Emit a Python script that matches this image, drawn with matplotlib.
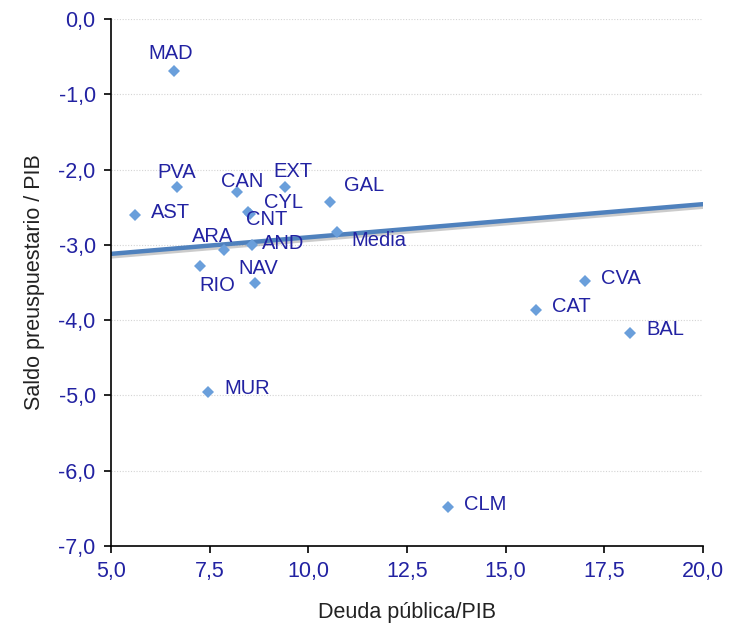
import matplotlib
matplotlib.use("Agg")
import matplotlib.pyplot as plt
import matplotlib.patheffects as pe
from matplotlib.ticker import FuncFormatter, MultipleLocator

# Datos
regiones = ["MAD", "PVA", "AST", "CAN", "EXT", "CYL", "CNT", "GAL", "ARA",
            "AND", "Media", "RIO", "NAV", "CVA", "CAT", "BAL", "MUR", "CLM"]
deuda = [6.60, 6.67, 5.61, 8.19, 9.41, 8.47, 8.53, 10.55, 7.86,
         8.57, 10.73, 7.25, 8.65, 17.01, 15.77, 18.15, 7.46, 13.54]
saldo = [-0.69, -2.23, -2.60, -2.30, -2.23, -2.56, -2.59, -2.43, -3.07,
         -3.00, -2.83, -3.28, -3.51, -3.48, -3.86, -4.17, -4.95, -6.48]

# Línea de tendencia (extremos leídos)
tend_x = [5.0, 20.0]
tend_y = [-3.12, -2.46]

# desplazamiento de etiquetas en píxeles (dx, dy)
offsets = {
    "MAD": (-26, 17), "PVA": (-20, 14), "AST": (16, 2), "CAN": (-16, 11),
    "EXT": (-12, 15), "CYL": (16, 9), "CNT": (-4, -6), "GAL": (14, 16),
    "ARA": (-32, 14), "AND": (10, 1), "Media": (14, -8), "RIO": (0, -20),
    "NAV": (-17, 15), "CVA": (16, 2), "CAT": (16, 3), "BAL": (16, 3),
    "MUR": (16, 3), "CLM": (16, 2),
}

navy = "#2222a2"
punto = "#6a9fdb"

plt.rcParams["font.family"] = ["Liberation Sans", "DejaVu Sans"]

fig = plt.figure(figsize=(7.37, 6.31), dpi=100)
ax = fig.add_axes([0.1506, 0.1347, 0.8034, 0.8353])

for y in range(-7, 1):
    ax.axhline(y, color="#d4d4d4", lw=0.8, ls=(0, (1, 1.5)), zorder=0)

ax.plot(tend_x, tend_y, color="#4f81bd", lw=3.2, solid_capstyle="butt", zorder=2,
        path_effects=[pe.SimpleLineShadow(offset=(0.5, -1.8), shadow_color="#999999",
                                          alpha=0.5), pe.Normal()])

ax.plot(deuda, saldo, ls="none", marker="D", markersize=6.5, color=punto,
        markeredgewidth=0, zorder=3)

for nombre, x, y in zip(regiones, deuda, saldo):
    dx, dy = offsets[nombre]
    ax.annotate(nombre, (x, y), xytext=(dx, dy), textcoords="offset pixels",
                ha="left", va="center", fontsize=14.5, color=navy, zorder=4)

ax.set_xlim(5, 20)
ax.set_ylim(-7, 0)
ax.xaxis.set_major_locator(MultipleLocator(2.5))
ax.yaxis.set_major_locator(MultipleLocator(1.0))
fmt = FuncFormatter(lambda v, p: f"{v:.1f}".replace(".", ","))
ax.xaxis.set_major_formatter(fmt)
ax.yaxis.set_major_formatter(fmt)

for s in ["top", "right"]:
    ax.spines[s].set_visible(False)
for s in ["left", "bottom"]:
    ax.spines[s].set_linewidth(1.2)
    ax.spines[s].set_color("black")

ax.tick_params(direction="out", length=5, width=1.2, labelsize=15.5,
               labelcolor=navy, pad=6)

ax.set_xlabel("Deuda pública/PIB", fontsize=15.5, color="#222222", labelpad=14)
ax.set_ylabel("Saldo preuspuestario / PIB", fontsize=15.5, color="#222222", labelpad=10)

fig.savefig("out.png", dpi=100)
